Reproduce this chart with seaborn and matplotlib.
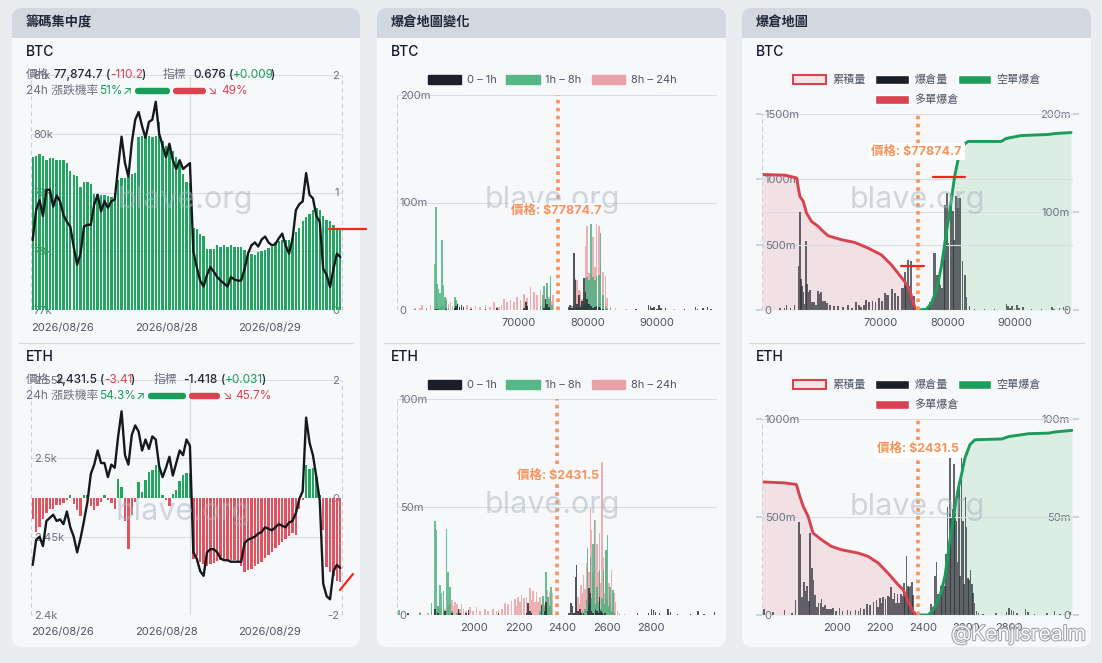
import numpy as np
import pandas as pd
import seaborn as sns
import matplotlib.pyplot as plt
from matplotlib.patches import FancyBboxPatch, Patch
from matplotlib.lines import Line2D
import matplotlib.patheffects as pe

W, H = 1102, 663

# ---------------- data: chip concentration (left cards) ----------------
date_labels = ["2026/08/26", "2026/08/28", "2026/08/29"]

btc_chip = [1.30, 1.31, 1.33, 1.31, 1.28, 1.29, 1.29, 1.28, 1.28, 1.28,
            1.25, 1.18, 1.15, 1.14, 1.05, 1.09, 1.09, 1.07, 0.99, 0.99,
            0.98, 0.98, 0.97, 0.96, 1.00, 1.11, 1.12, 1.12, 1.13, 1.16,
            1.17, 1.47, 1.48, 1.47, 1.48, 1.47, 1.48, 1.60, 1.44, 1.40,
            1.39, 1.35, 1.30, 1.24, 1.16, 1.09, 1.08, 0.70, 0.69, 0.65,
            0.63, 0.52, 0.52, 0.52, 0.55, 0.54, 0.55, 0.54, 0.55, 0.54,
            0.54, 0.54, 0.51, 0.49, 0.48, 0.47, 0.49, 0.50, 0.51, 0.53,
            0.54, 0.58, 0.59, 0.60, 0.60, 0.60, 0.61, 0.66, 0.70, 0.76,
            0.79, 0.82, 0.85, 0.87, 0.85, 0.80, 0.77, 0.76, 0.72, 0.69,
            0.69]
btc_price = [78190, 78700, 78870, 78600, 79040, 79050, 78760, 78950, 78850, 78620,
             78500, 78420, 78070, 77770, 77960, 78420, 78450, 78450, 78800, 78960,
             78680, 78850, 78740, 78850, 78880, 79440, 79950, 79500, 79270, 79850,
             80240, 80370, 80130, 79930, 80200, 80240, 80545, 80000, 79800, 79600,
             79830, 79550, 79400, 79550, 79400, 79450, 79500, 78000, 77730, 77500,
             77400, 77600, 77730, 77650, 77560, 77500, 77450, 77400, 77560, 77520,
             77500, 77500, 77700, 77960, 78100, 78150, 78080, 78200, 78250, 78150,
             78100, 78120, 78220, 78300, 78100, 77960, 78200, 78700, 78800, 78850,
             79330, 78960, 78900, 78600, 78500, 77700, 77600, 77390, 77700, 77960,
             77900]
eth_chip = [-0.36, -0.58, -0.50, -0.36, -0.27, -0.19, -0.19, -0.13, -0.12, -0.10,
            -0.05, 0.04, -0.11, -0.22, -0.32, 0.05, 0.04, -0.14, -0.21, -0.15,
            -0.08, 0.04, -0.05, -0.09, -0.19, 0.32, 0.18, -0.40, -0.87, -0.30,
            -0.07, 0.26, 0.10, 0.30, 0.43, 0.46, 0.55, 0.60, 0.05, -0.05,
            -0.14, 0.06, 0.12, 0.28, 0.38, 0.41, 0.41, -1.04, -1.00, -1.10,
            -1.13, -1.16, -1.14, -1.12, -1.08, -1.06, -1.04, -1.06, -1.06, -1.06,
            -1.08, -1.16, -1.26, -1.23, -1.21, -1.17, -1.13, -1.09, -1.03, -0.98,
            -0.93, -0.86, -0.80, -0.75, -0.71, -0.66, -0.61, -0.64, -0.20, -0.05,
            0.55, 0.49, 0.50, 0.35, 0.04, -0.55, -1.18, -1.26, -1.33, -1.42,
            -1.43]
eth_price = [2432, 2448, 2450, 2444, 2460, 2462, 2464, 2460, 2461, 2458,
             2466, 2456, 2450, 2440, 2449, 2460, 2472, 2490, 2496, 2505,
             2497, 2497, 2488, 2496, 2494, 2514, 2530, 2502, 2496, 2515,
             2521, 2517, 2505, 2512, 2506, 2514, 2512, 2495, 2488, 2494,
             2501, 2489, 2497, 2505, 2502, 2512, 2508, 2440, 2436, 2428,
             2425, 2440, 2442, 2442, 2440, 2436, 2435, 2435, 2434, 2434,
             2434, 2434, 2446, 2448, 2449, 2450, 2452, 2453, 2456, 2455,
             2454, 2456, 2458, 2457, 2456, 2459, 2460, 2465, 2474, 2479,
             2526, 2510, 2502, 2488, 2473, 2420, 2412, 2410, 2428, 2432,
             2430]

# ---------------- data: liquidation map (middle / right cards) ----------------
btc_spot = 77874.7
eth_spot = 2431.5

btc_grid = [55000, 55700, 56000, 56600, 57200, 57785, 57970, 58175, 58365, 58550,
            58700, 58900, 59090, 59280, 59480, 59800, 60100, 60400, 60730, 60930,
            61120, 61400, 61700, 62000, 62520, 63100, 63730, 64400, 65180, 65800,
            66380, 66800, 67100, 67500, 67830, 68320, 68800, 69280, 69770, 70250,
            70720, 71000, 71220, 71700, 72170, 72670, 73140, 73400, 73620, 73850,
            74120, 74350, 74590, 74800, 74980, 77200, 77400, 77700, 77970, 78215,
            78460, 78700, 78940, 79180, 79420, 79665, 79910, 80140, 80490, 80780,
            81020, 81260, 81590, 81840, 82230, 82560, 82810, 83290, 84010, 85500,
            87000, 88790, 89050, 89300, 89600, 90000, 90300, 90600, 91260, 92500,
            94000, 95600, 95900, 96700, 97300, 97800]
btc_0_1h = [0, 0, 0, 0, 0, 0, 1, 0, 1, 0,
            0, 0, 0, 0, 1, 0, 0, 0, 2, 4,
            6, 3, 5, 3, 0, 1, 0, 0, 1, 0,
            0, 2, 0, 0, 0, 0, 0, 0, 0, 0,
            2, 7, 4, 0, 0, 0, 0, 0, 2, 10,
            6, 3, 0, 0, 0, 3, 5, 2, 53, 28,
            6, 14, 3, 8, 30, 17, 10, 6, 4, 2,
            3, 4, 3, 2, 1, 0, 0, 0, 0, 0,
            1, 5, 4, 2, 3, 1, 5, 2, 2, 0,
            1, 3, 1, 2, 3, 1]
btc_1_8h = [1, 0, 0, 1.5, 0, 42.6, 96, 24, 20, 16,
            3, 65, 23, 12, 9, 2, 0, 1, 12, 9,
            6, 2, 1, 0, 0, 0, 0, 0, 0, 0,
            0, 0, 0, 0, 0, 0, 0, 0, 0, 0,
            0, 0, 0, 0, 0, 0, 4, 14, 22, 6,
            25, 10, 32, 5, 0, 0, 2, 4, 0, 0,
            2, 3, 5, 4, 6, 30, 31, 28, 80, 31,
            28, 32, 33, 72, 14, 4, 2, 1, 0, 0,
            0, 0, 0, 0, 0, 0, 0, 0, 0, 0,
            0, 0, 0, 0, 0, 0]
btc_8_24h = [1.5, 2, 4.6, 1, 4.6, 2, 3, 7.7, 3, 2,
             3, 5, 4, 6, 10.8, 6, 7.7, 4, 5, 3,
             6.2, 4, 3, 4, 4.6, 3, 3.7, 3, 4.6, 2.5,
             7.7, 3, 3, 5, 10, 7.7, 9, 7.7, 12, 9,
             15, 8, 11, 21.6, 17, 14, 18.5, 8, 15, 10,
             20, 12, 18.5, 8, 14, 0, 1, 2, 5, 30,
             28, 19, 18, 10, 15, 60, 78, 34, 34, 68,
             40, 80, 78, 40, 35, 32, 11, 3, 1.5, 1,
             0.5, 1, 0.5, 0, 1, 0, 0.5, 0, 1, 1,
             0.5, 0, 0, 0.5, 0, 0]

eth_grid = [1660, 1700, 1754, 1790, 1807, 1822, 1830, 1837, 1845, 1852,
            1860, 1868, 1875, 1882, 1890, 1898, 1906, 1913, 1922, 1928,
            1935, 1943, 1952, 1962, 1973, 1981, 1995, 2011, 2025, 2048,
            2062, 2086, 2100, 2109, 2125, 2139, 2154, 2169, 2184, 2192,
            2199, 2207, 2214, 2225, 2237, 2244, 2252, 2260, 2267, 2275,
            2282, 2290, 2297, 2305, 2312, 2318, 2324, 2330, 2335, 2342,
            2348, 2355, 2430, 2438, 2445, 2452, 2458, 2464, 2471, 2478,
            2484, 2490, 2496, 2502, 2508, 2514, 2520, 2526, 2532, 2538,
            2544, 2550, 2556, 2562, 2568, 2574, 2580, 2586, 2592, 2598,
            2604, 2610, 2616, 2622, 2628, 2634, 2641, 2650, 2659, 2680,
            2740, 2790, 2803, 2813, 2822, 2840, 2878, 2890, 2920, 2980,
            3013, 3040, 3089]
eth_0_1h = [0, 1, 0, 0, 0, 3, 0, 1, 0, 0,
            0, 2, 0, 0, 0, 1, 0, 0, 0, 3,
            1, 0, 0, 1, 2.3, 0, 0, 0, 0, 0,
            0, 0, 0, 1, 0, 0, 0, 0, 0, 0,
            0, 0, 0, 0, 1, 5.4, 2, 1, 0, 0,
            0, 0, 0, 4.6, 0, 2, 6, 0, 0, 0,
            0, 0, 1, 5.4, 4, 1, 17.8, 23, 2, 3,
            1, 0, 1, 0, 0, 2, 12.4, 10, 2, 1,
            0, 3, 2, 1, 8.5, 2, 1, 0, 1, 0,
            0, 0, 0, 0, 0, 0, 0, 0, 0, 0,
            1, 1, 3, 2.3, 1.5, 1, 2.6, 1.5, 0.5, 0.5,
            1.8, 0.5, 1.5]
eth_1_8h = [2.3, 0, 1, 0, 5.4, 43.6, 39.4, 4, 14, 10,
            11, 2, 40, 20, 13, 2, 0, 0, 1, 3,
            0, 0, 0, 0, 0, 0, 0, 0, 0, 0,
            0, 0, 0, 0, 0, 0, 0, 0, 0, 0,
            0, 0, 0, 0, 0, 0, 0, 0, 0, 0,
            0, 0, 2, 0, 9, 4, 20, 3, 8.5, 4,
            13, 0, 0, 0, 0, 1, 0, 0, 0, 0,
            0, 2, 0, 3, 7, 31, 5, 27, 8, 33,
            44, 5, 13, 6, 21, 3, 8, 21, 5, 30,
            37, 4, 13, 2, 11.6, 1, 0, 0, 0, 0,
            0, 0, 0, 0, 0, 0, 0, 0, 0, 0,
            0, 0, 0]
eth_8_24h = [1, 0.5, 1.5, 1, 2, 1, 2, 4, 3, 2,
             4, 3, 2, 4, 5, 7, 4, 6, 5, 2,
             3, 5, 3, 2, 1, 3.5, 2, 3.5, 2, 2.6,
             2, 2.6, 2, 2.5, 3, 5.7, 5, 6.6, 7.4, 4,
             8.5, 6, 9.3, 8, 8.5, 4, 12.4, 7, 11.3, 6,
             10.8, 6, 8.5, 5, 7.3, 5, 4, 11.6, 6, 10.8,
             4, 10, 0, 0, 0, 1, 2, 4, 8.5, 5,
             14, 10, 18.5, 12, 24, 22, 20, 49.5, 39.4, 20,
             33, 44, 33, 20, 37.9, 15, 71, 27, 10, 30,
             8, 14.7, 5, 21, 4, 10, 6.2, 2, 1, 0.5,
             0, 0.3, 0.5, 0, 0.3, 0, 0.3, 0, 0, 0.5,
             0, 0, 0]

# cumulative liquidation curves (left axis, millions)
btc_long_px = [52350, 55760, 57500, 57990, 58490, 58990, 59730, 60720, 61460, 62210,
               64190, 66170, 68160, 70140, 71630, 72620, 73610, 74360, 74850, 75250]
btc_long_cum = [1037, 1032, 1011, 870, 832, 742, 678, 640, 602, 568,
                538, 517, 474, 422, 346, 282, 218, 154, 64, 0]
btc_short_px = [75450, 76840, 77580, 78330, 79070, 79810, 80560, 81050, 81650, 82290,
                83040, 86010, 88000, 88740, 90970, 94940, 95930, 98410]
btc_short_cum = [0, 5, 51, 150, 330, 585, 840, 1020, 1170, 1260,
                 1290, 1290, 1290, 1313, 1335, 1343, 1350, 1358]
eth_long_px = [1650, 1756, 1810, 1826, 1842, 1865, 1888, 1927, 1974, 2020,
               2098, 2145, 2192, 2238, 2285, 2309, 2332, 2355, 2371]
eth_long_cum = [679, 674, 666, 606, 555, 503, 418, 384, 350, 333,
                316, 299, 265, 213, 154, 128, 68, 17, 0]
eth_short_px = [2374, 2425, 2448, 2479, 2503, 2526, 2550, 2568, 2581, 2596,
                2620, 2643, 2768, 2799, 2893, 2986, 3017, 3095]
eth_short_cum = [0, 0, 26, 94, 196, 380, 550, 660, 720, 800,
                 870, 894, 898, 910, 925, 928, 934, 942]

for a, b in [(btc_grid, btc_0_1h), (btc_grid, btc_1_8h), (btc_grid, btc_8_24h),
             (eth_grid, eth_0_1h), (eth_grid, eth_1_8h), (eth_grid, eth_8_24h)]:
    assert len(a) == len(b), (len(a), len(b))

# ---------------- style ----------------
BG = "#e9edf0"
HEADER = "#d1d8e0"
BODY = "#f7f8fa"
GRID = "#d9dee4"
GRAY = "#6b7280"
DARK_TXT = "#1f2937"
GREEN = "#1a9d5a"
RED = "#d9434f"
ORANGE = "#f7945c"
BAR_GREEN = "#23a562"
BAR_RED = "#e2535f"

sns.set_theme(style="white", rc={"axes.facecolor": "none"})
plt.rcParams["font.family"] = ["Inter", "Noto Sans CJK TC", "DejaVu Sans"]
plt.rcParams["axes.unicode_minus"] = False

fig = plt.figure(figsize=(W / 100, H / 100), dpi=100, facecolor=BG)


def add_ax(x0, y0, x1, y1):
    return fig.add_axes([x0 / W, 1 - y1 / H, (x1 - x0) / W, (y1 - y0) / H])


def ftxt(x, y, s, **kw):
    kw.setdefault("va", "center")
    kw.setdefault("fontsize", 8.5)
    return fig.text(x / W, 1 - y / H, s, **kw)


def box(xa, ya, xb, yb, color, r=0, z=-5, ec="none", lw=0):
    style = f"round,pad=0,rounding_size={r / 100}" if r else "square,pad=0"
    fig.add_artist(FancyBboxPatch((xa / 100, (H - yb) / 100), (xb - xa) / 100, (yb - ya) / 100,
                                  boxstyle=style, fc=color, ec=ec, lw=lw,
                                  transform=fig.dpi_scale_trans, zorder=z))


def fline(p0, p1, color, lw, z=-4):
    fig.add_artist(Line2D([p0[0] / W, p1[0] / W], [1 - p0[1] / H, 1 - p1[1] / H],
                          transform=fig.transFigure, color=color, lw=lw, zorder=z))


def draw_card(x0, x1, title):
    box(x0, 8, x1, 647, HEADER, 10)
    box(x0, 38, x1, 647, BODY, 10)
    box(x0, 38, x1, 55, BODY, 0)
    ftxt(x0 + 14, 23, title, fontsize=9.5, fontweight="bold", color=DARK_TXT)
    ftxt(x0 + 14, 52, "BTC", fontsize=10, fontweight="medium", color="#111827")
    ftxt(x0 + 14, 357, "ETH", fontsize=10, fontweight="medium", color="#111827")
    fline((x0 + 7, 343), (x1 - 7, 343), "#d5dae0", 1)


def strip(ax):
    for s in ax.spines.values():
        s.set_visible(False)
    ax.set_xlabel("")
    ax.set_ylabel("")


def inside_labels(ax, side, length=0):
    ax.tick_params(axis="y", length=length, direction="out", color="#c9cfd6",
                   pad=-(length + 2), labelsize=8, labelcolor=GRAY)
    for t in ax.get_yticklabels():
        t.set_horizontalalignment("left" if side == "left" else "right")


def watermark(x, y):
    ftxt(x, y, "blave.org", ha="center", fontsize=22, color="#a7b3bf", alpha=0.5, zorder=4)


# ---------------- left card: 籌碼集中度 ----------------
def chip_panel(top, bottom, chip, price, plim, pticks, plabels, rlim, rticks, rlabels):
    idx = list(range(len(chip)))
    axp = add_ax(31, top, 342, bottom)
    axb = axp.twinx()
    axl = axp.twinx()
    df = pd.DataFrame({"i": idx, "v": chip,
                       "side": ["up" if v >= 0 else "down" for v in chip]})
    sns.barplot(data=df, x="i", y="v", hue="side", dodge=False, legend=False,
                palette={"up": BAR_GREEN, "down": BAR_RED}, width=0.7,
                saturation=1, linewidth=0, ax=axb)
    sns.lineplot(x=idx, y=price, ax=axl, color="#16181d", lw=1.7)

    axp.set_xlim(-0.5, len(chip) - 0.5)
    axp.set_ylim(*plim)
    axp.set_yticks(pticks, plabels)
    axp.yaxis.tick_left()
    inside_labels(axp, "left")
    axp.grid(axis="y", color=GRID, lw=0.8)
    axp.grid(axis="x", visible=False)
    axp.axvline(46, color=GRID, lw=0.9)
    for xe in (-0.5, len(chip) - 0.5):
        axp.axvline(xe, color="#c9cfd6", lw=0.8, ls=(0, (4, 3)), clip_on=False)
    axp.set_xticks([8.6, 39, 69.4], date_labels)
    axp.tick_params(axis="x", length=0, pad=9, labelsize=8, labelcolor="#4b5563")

    axb.set_ylim(*rlim)
    axb.set_yticks(rticks, rlabels)
    axb.yaxis.tick_right()
    inside_labels(axb, "right")
    axb.grid(False)

    axl.set_ylim(*plim)
    axl.set_yticks([])
    axl.grid(False)
    for a in (axp, axb, axl):
        strip(a)


def info_rows(y1, y2, items1, items2, pbar_g, pbar_r):
    for x, s, c in items1:
        ftxt(x, y1, s, color=c, fontweight="medium" if c == DARK_TXT else "normal")
    for x, s, c in items2:
        ftxt(x, y2, s, color=c)
    box(pbar_g[0], y2 - 3.2, pbar_g[1], y2 + 3.2, GREEN, 3.2, z=5)
    box(pbar_r[0], y2 - 3.2, pbar_r[1], y2 + 3.2, RED, 3.2, z=5)


# ---------------- middle card: 爆倉地圖變化 ----------------
def change_panel(top, bottom, grid, d1, d8, d24, xlim, xticks, ymax, yticks, ylabels,
                 spot_x, bar_w):
    ax = add_ax(397, top, 717, bottom)
    df = pd.DataFrame({"price": grid, "h1": d1, "h8": d8, "h24": d24})
    w = bar_w / np.diff(grid).min()
    for col, color, alpha in (("h24", "#eba2a8", 0.85), ("h8", "#46b07d", 0.8),
                              ("h1", "#1b1f27", 0.75)):
        sns.barplot(data=df, x="price", y=col, native_scale=True, orient="x",
                    color=color, alpha=alpha, width=w, saturation=1,
                    errorbar=None, linewidth=0, ax=ax)
    ax.axvline(spot_x, color=ORANGE, lw=2.6, ls=(0, (1, 1.2)), zorder=5)
    ax.set_xlim(*xlim)
    ax.set_ylim(0, ymax)
    ax.set_yticks(yticks, ylabels)
    inside_labels(ax, "left", length=4)
    ax.set_xticks(xticks, [str(t) for t in xticks])
    ax.tick_params(axis="x", length=0, pad=6, labelsize=8, labelcolor="#4b5563")
    ax.grid(axis="y", color=GRID, lw=0.8)
    ax.grid(axis="x", visible=False)
    ax.axvline(xlim[0], color="#c9cfd6", lw=0.8, ls=(0, (4, 3)))
    strip(ax)


# ---------------- right card: 爆倉地圖 ----------------
def map_panel(top, bottom, grid, d1, d8, d24, xlim, xticks, lmax, lticks, llabels,
              rmax, rticks, rlabels, long_px, long_v, short_px, short_v, spot_x, bar_w):
    axf = add_ax(762, top, 1073, bottom)   # area fills, behind the bars
    axr = axf.twinx()                      # liquidation bars, right scale
    axl = axf.twinx()                      # cumulative lines, left scale
    axr.yaxis.tick_right()
    axl.yaxis.tick_left()

    axf.fill_between(long_px, long_v, color="#f1e1e4", lw=0)
    axf.fill_between(short_px, short_v, color="#dcede4", lw=0)
    axf.set_ylim(0, lmax)
    axf.set_yticks([])
    axf.set_xlim(*xlim)
    axf.set_xticks(xticks, [str(t) for t in xticks])
    axf.tick_params(axis="x", length=0, pad=6, labelsize=8, labelcolor="#4b5563")
    axf.grid(axis="y", visible=False)
    axf.grid(axis="x", visible=False)

    df = pd.DataFrame({"price": grid, "h1": d1, "h8": d8, "h24": d24})
    df["total"] = df[["h1", "h8", "h24"]].sum(axis=1)
    w = bar_w / np.diff(grid).min()
    sns.barplot(data=df, x="price", y="total", native_scale=True, orient="x",
                color="#2b2f36", alpha=0.72, width=w, saturation=1, errorbar=None,
                linewidth=0, ax=axr)
    axr.set_ylim(0, rmax)
    axr.set_yticks(rticks, rlabels)
    inside_labels(axr, "right", length=4)
    axr.grid(axis="y", color=GRID, lw=0.7)
    axr.grid(axis="x", visible=False)

    sns.lineplot(x=long_px, y=long_v, ax=axl, color=RED, lw=2.1)
    sns.lineplot(x=short_px, y=short_v, ax=axl, color=GREEN, lw=2.1)
    axl.axvline(spot_x, color=ORANGE, lw=2.6, ls=(0, (1, 1.2)), zorder=5)
    axl.set_ylim(0, lmax)
    axl.set_yticks(lticks, llabels)
    inside_labels(axl, "left", length=4)
    axl.grid(axis="y", color=GRID, lw=0.8)
    axl.grid(axis="x", visible=False)
    for xe in xlim:
        axl.axvline(xe, color="#c9cfd6", lw=0.8, ls=(0, (4, 3)))
    axf.set_xlim(*xlim)
    axf.set_xticks(xticks, [str(t) for t in xticks])
    for a in (axf, axr, axl):
        strip(a)


# ---------------- build ----------------
draw_card(12, 360, "籌碼集中度")
draw_card(377, 726, "爆倉地圖變化")
draw_card(742, 1091, "爆倉地圖")

chip_panel(75, 310, btc_chip, btc_price, (77000, 81000),
           [77000, 78000, 79000, 80000, 81000], ["77k", "78k", "79k", "80k", "81k"],
           (0, 2), [0, 1, 2], ["0", "1", "2"])
chip_panel(380, 615, eth_chip, eth_price, (2400, 2550),
           [2400, 2450, 2500, 2550], ["2.4k", "2.45k", "2.5k", "2.55k"],
           (-2, 2), [-2, 0, 2], ["-2", "0", "2"])

info_rows(75, 91,
          [(26, "價格", GRAY), (54, "77,874.7", DARK_TXT), (106, "(", DARK_TXT),
           (110, "-110.2", RED), (142, ")", DARK_TXT), (163, "指標", GRAY),
           (193, "0.676", DARK_TXT), (229, "(", DARK_TXT), (233, "+0.009", GREEN),
           (271, ")", DARK_TXT)],
          [(26, "24h 漲跌機率", GRAY), (99, "51%", GREEN), (123, "↗", GREEN),
           (208, "↘", RED), (221, "49%", RED)],
          (135, 170), (173, 206))
info_rows(380, 396,
          [(26, "價格", GRAY), (55, "2,431.5", DARK_TXT), (100, "(", DARK_TXT),
           (104, "-3.41", RED), (131, ")", DARK_TXT), (154, "指標", GRAY),
           (183, "-1.418", DARK_TXT), (221, "(", DARK_TXT), (225, "+0.031", GREEN),
           (262, ")", DARK_TXT)],
          [(26, "24h 漲跌機率", GRAY), (99, "54.3%", GREEN), (136, "↗", GREEN),
           (223, "↘", RED), (235, "45.7%", RED)],
          (148, 186), (189, 220))

btc_xlim = (52350, 98700)
eth_xlim = (1650, 3100)
btc_line_x = 75600
eth_line_x = 2376

change_panel(95, 310, btc_grid, btc_0_1h, btc_1_8h, btc_8_24h, btc_xlim,
             [70000, 80000, 90000], 200, [0, 100, 200], ["0", "100m", "200m"],
             btc_line_x, 240)
change_panel(399, 615, eth_grid, eth_0_1h, eth_1_8h, eth_8_24h, eth_xlim,
             [2000, 2200, 2400, 2600, 2800], 100, [0, 50, 100], ["0", "50m", "100m"],
             eth_line_x, 7)

map_panel(114, 310, btc_grid, btc_0_1h, btc_1_8h, btc_8_24h, btc_xlim,
          [70000, 80000, 90000], 1500, [0, 500, 1000, 1500],
          ["0", "500m", "1000m", "1500m"], 200, [0, 100, 200], ["0", "100m", "200m"],
          btc_long_px, btc_long_cum, btc_short_px, btc_short_cum, btc_line_x, 260)
map_panel(419, 615, eth_grid, eth_0_1h, eth_1_8h, eth_8_24h, eth_xlim,
          [2000, 2200, 2400, 2600, 2800], 1000, [0, 500, 1000],
          ["0", "500m", "1000m"], 100, [0, 50, 100], ["0", "50m", "100m"],
          eth_long_px, eth_long_cum, eth_short_px, eth_short_cum, eth_line_x, 7.5)

# legends
leg_kw = dict(loc="center", frameon=False, fontsize=8, handlelength=3, handleheight=0.9,
              handletextpad=0.5, columnspacing=0.9, labelcolor="#4b5563", borderpad=0)
for y in (80, 385):
    fig.legend(handles=[Patch(fc="#1b1f27", ec="#1b1f27", label="0 – 1h"),
                        Patch(fc="#56b886", ec="#56b886", label="1h – 8h"),
                        Patch(fc="#e9a2a8", ec="#e9a2a8", label="8h – 24h")],
               bbox_to_anchor=(552 / W, 1 - y / H), ncol=3, **leg_kw)
    fig.legend(handles=[Patch(fc="#f5e5e8", ec=RED, lw=1.5, label="累積量"),
                        Patch(fc="#1b1f27", label="爆倉量"),
                        Patch(fc="#1f9d5c", label="空單爆倉")],
               bbox_to_anchor=(917 / W, 1 - y / H), ncol=3, **leg_kw)
    fig.legend(handles=[Patch(fc=RED, label="多單爆倉")],
               bbox_to_anchor=(917 / W, 1 - (y + 20) / H), ncol=1, **leg_kw)

# spot price labels
ftxt(556.7, 210.7, f"價格: ${btc_spot}", ha="center", color=ORANGE, fontsize=9,
     fontweight="bold", bbox=dict(fc=BODY, ec="none", pad=1.5), zorder=6)
ftxt(558.3, 475.7, f"價格: ${eth_spot}", ha="center", color=ORANGE, fontsize=9,
     fontweight="bold", bbox=dict(fc=BODY, ec="none", pad=1.5), zorder=6)
ftxt(916.7, 151.7, f"價格: ${btc_spot}", ha="center", color=ORANGE, fontsize=9,
     fontweight="bold", bbox=dict(fc="white", ec="none", pad=2), zorder=6)
ftxt(917.7, 449, f"價格: ${eth_spot}", ha="center", color=ORANGE, fontsize=9,
     fontweight="bold", bbox=dict(fc="white", ec="none", pad=2), zorder=6)

# watermarks
for x, y in [(185, 200), (552, 200), (917, 200), (183, 512), (552, 505), (917, 507)]:
    watermark(x, y)
ftxt(1086, 634, "@Kenjisrealm", ha="right", fontsize=15, color="white", alpha=0.95,
     zorder=7, path_effects=[pe.withStroke(linewidth=1.5, foreground="#9aa0a6")])

# hand-drawn red marks on the screenshot
for p0, p1 in [((329, 229), (366, 229)), ((901, 266), (924, 266)),
               ((933, 177), (965, 177)), ((340, 590), (353, 574))]:
    fline(p0, p1, "#f2261b", 1.6, z=8)

fig.savefig("out.png", dpi=100, facecolor=fig.get_facecolor())
